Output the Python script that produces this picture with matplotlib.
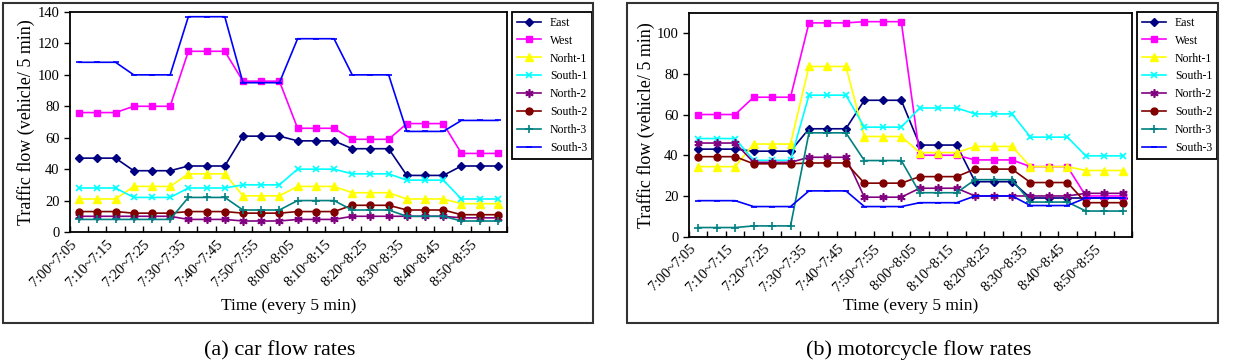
import numpy as np
import matplotlib
matplotlib.use("Agg")
import matplotlib.pyplot as plt
from matplotlib.patches import Rectangle

plt.rcParams['font.family'] = ['Liberation Serif', 'DejaVu Serif']

# time slots (24 x 5 min), labels on every other slot
tick_labels = ["7:00~7:05", "7:10~7:15", "7:20~7:25", "7:30~7:35", "7:40~7:45", "7:50~7:55",
               "8:00~8:05", "8:10~8:15", "8:20~8:25", "8:30~8:35", "8:40~8:45", "8:50~8:55"]
series_names = ["East", "West", "Norht-1", "South-1", "North-2", "South-2", "North-3", "South-3"]

# (a) car flow rates
car_east = [47, 47, 47, 39, 39, 39, 42, 42, 42, 61, 61, 61, 58, 58, 58, 53, 53, 53, 36, 36, 36, 42, 42, 42]
car_west = [76, 76, 76, 80, 80, 80, 115, 115, 115, 96, 96, 96, 66, 66, 66, 59, 59, 59, 69, 69, 69, 50, 50, 50]
car_north1 = [21, 21, 21, 29, 29, 29, 37, 37, 37, 23, 23, 23, 29, 29, 29, 25, 25, 25, 21, 21, 21, 18, 18, 18]
car_south1 = [28, 28, 28, 22, 22, 22, 28, 28, 28, 30, 30, 30, 40, 40, 40, 37, 37, 37, 33, 33, 33, 21, 21, 21]
car_north2 = [10, 10, 10, 10, 10, 10, 8, 8, 8, 7, 7, 7, 8, 8, 8, 10, 10, 10, 10, 10, 10, 9, 9, 9]
car_south2 = [13, 13, 13, 12, 12, 12, 13, 13, 13, 12, 12, 12, 13, 13, 13, 17, 17, 17, 14, 14, 14, 11, 11, 11]
car_north3 = [8, 8, 8, 8, 8, 8, 22, 22, 22, 14, 14, 14, 20, 20, 20, 14, 14, 14, 10, 10, 10, 7, 7, 7]
car_south3 = [108, 108, 108, 100, 100, 100, 137, 137, 137, 95, 95, 95, 123, 123, 123, 100, 100, 100,
              64, 64, 64, 71, 71, 71]

# (b) motorcycle flow rates
moto_east = [43, 43, 43, 42, 42, 42, 53, 53, 53, 67, 67, 67, 45, 45, 45, 27, 27, 27, 19, 19, 19, 19, 19, 19]
moto_west = [60, 60, 60, 68.5, 68.5, 68.5, 105, 105, 105, 105.6, 105.6, 105.6, 40, 40, 40,
             37.7, 37.7, 37.7, 34.4, 34.4, 34.4, 20, 20, 20]
moto_north1 = [34.4, 34.4, 34.4, 45.5, 45.5, 45.5, 83.6, 83.6, 83.6, 49.2, 49.2, 49.2, 41.3, 41.3, 41.3,
               44.3, 44.3, 44.3, 34.4, 34.4, 34.4, 32.5, 32.5, 32.5]
moto_south1 = [48.2, 48.2, 48.2, 37.5, 37.5, 37.5, 69.5, 69.5, 69.5, 53.8, 53.8, 53.8, 63.2, 63.2, 63.2,
               60.3, 60.3, 60.3, 48.9, 48.9, 48.9, 39.7, 39.7, 39.7]
moto_north2 = [46, 46, 46, 36.5, 36.5, 36.5, 39, 39, 39, 19.4, 19.4, 19.4, 23.8, 23.8, 23.8,
               20, 20, 20, 20, 20, 20, 21.3, 21.3, 21.3]
moto_south2 = [39.3, 39.3, 39.3, 35.8, 35.8, 35.8, 36.2, 36.2, 36.2, 26.3, 26.3, 26.3, 29.5, 29.5, 29.5,
               33.2, 33.2, 33.2, 26.6, 26.6, 26.6, 16.7, 16.7, 16.7]
moto_north3 = [4.5, 4.5, 4.5, 5.3, 5.3, 5.3, 51, 51, 51, 37.4, 37.4, 37.4, 21.6, 21.6, 21.6,
               28, 28, 28, 17, 17, 17, 12.6, 12.6, 12.6]
moto_south3 = [17.7, 17.7, 17.7, 14.8, 14.8, 14.8, 22.5, 22.5, 22.5, 14.8, 14.8, 14.8, 16.7, 16.7, 16.7,
               20, 20, 20, 15.3, 15.3, 15.3, 19, 19, 19]

styles = [
    dict(color='#000080', marker='D', ms=4.5),
    dict(color='#FF00FF', marker='s', ms=5),
    dict(color='#FFFF00', marker='^', ms=5.5),
    dict(color='#00FFFF', marker='x', ms=5, mew=1.2),
    dict(color='#800080', marker=(6, 2, 0), ms=6, mew=1.2),
    dict(color='#800000', marker='o', ms=5),
    dict(color='#008080', marker='+', ms=6, mew=1.2),
    dict(color='#0000FF', marker='_', ms=4, mew=1.2),
]

fig = plt.figure(figsize=(12.33, 3.62), dpi=100)


def draw_panel(rect, data, ymax, yticks, legend_anchor, ylab_x, xlab_y):
    ax = fig.add_axes(rect)
    x = np.arange(len(data[0]))
    for vals, name, st in zip(data, series_names, styles):
        ax.plot(x, vals, lw=1.2, label=name, **st)
    ax.set_xlim(-0.5, len(x) - 0.5)
    ax.set_ylim(0, ymax)
    ax.set_yticks(yticks)
    ax.set_xticks(x[::2])
    ax.set_xticklabels(tick_labels, rotation=45, ha='right', fontsize=10.5)
    ax.set_xticks(np.arange(-0.5, len(x)), minor=True)
    ax.tick_params(axis='x', which='major', length=0, pad=4)
    ax.tick_params(axis='x', which='minor', direction='in', length=4, width=1)
    ax.tick_params(axis='y', direction='out', length=4, width=1, labelsize=10.5)
    for s in ax.spines.values():
        s.set_linewidth(1.3)
    ax.set_ylabel("Traffic flow (vehicle/ 5 min)", fontsize=13)
    ax.yaxis.set_label_coords(ylab_x, 0.5)
    ax.set_xlabel("Time (every 5 min)", fontsize=12.5)
    ax.xaxis.set_label_coords(0.5, xlab_y)
    leg = ax.legend(loc='upper right', bbox_to_anchor=legend_anchor, bbox_transform=fig.transFigure,
                    fontsize=8.5, handlelength=2.0, borderaxespad=0, fancybox=False,
                    edgecolor='black', framealpha=1, borderpad=0.4, labelspacing=0.5)
    leg.get_frame().set_linewidth(1.3)
    return ax


W, H = 1233, 362
draw_panel([70 / W, 1 - 232 / H, 437 / W, 220 / H],
           [car_east, car_west, car_north1, car_south1, car_north2, car_south2, car_north3, car_south3],
           140, np.arange(0, 141, 20), (592 / W, 1 - 12 / H), -0.08, -0.30)
draw_panel([689 / W, 1 - 236.7 / H, 443 / W, 224 / H],
           [moto_east, moto_west, moto_north1, moto_south1, moto_north2, moto_south2, moto_north3, moto_south3],
           110, np.arange(0, 101, 20), (1217 / W, 1 - 12 / H), -0.077, -0.274)

# frames around each panel
for x0, x1 in [(3, 593), (627, 1218)]:
    fig.add_artist(Rectangle((x0 / W, 1 - 323 / H), (x1 - x0) / W, 320 / H, transform=fig.transFigure,
                             fill=False, lw=1.5, ec='#333333'))

fig.text(280 / W, 1 - 355 / H, "(a) car flow rates", ha='center', va='baseline', fontsize=16)
fig.text(919 / W, 1 - 355 / H, "(b) motorcycle flow rates", ha='center', va='baseline', fontsize=16)

fig.savefig("out.png", dpi=100)
